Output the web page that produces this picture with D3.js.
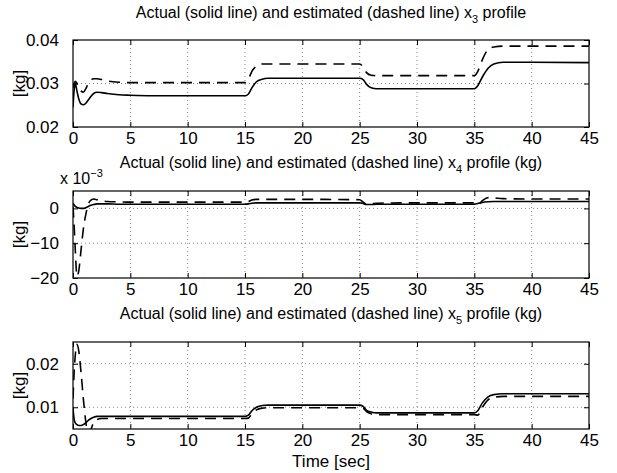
<!DOCTYPE html>
<html>
<head>
<meta charset="utf-8">
<script src="https://cdn.jsdelivr.net/npm/d3@7"></script>
<style>
  body { margin: 0; background: #fff; }
  svg text { font-family: "Liberation Sans", Arial, Helvetica, sans-serif; fill: #000; }
</style>
</head>
<body>
<div id="chart"></div>
<script>
// time samples [sec], shared by every series
var time = [0, 0.1, 0.2, 0.35, 0.5, 0.7, 0.9, 1.1, 1.3, 1.5, 1.8, 2.1, 2.5, 3, 4, 5, 7, 10, 15,
    15.3, 15.6, 16, 16.5, 17, 20, 25, 25.3, 25.6, 26, 26.5, 30, 35,
    35.3, 35.7, 36.2, 36.7, 37.5, 40, 45];

// x3 [kg]
var x3Actual = [0.0245, 0.0285, 0.0300, 0.0282, 0.0265, 0.0253, 0.0251, 0.0254, 0.0261, 0.0268, 0.0277, 0.0280, 0.0279, 0.0277, 0.0274, 0.0273, 0.0272, 0.0272, 0.0272,
    0.0276, 0.0290, 0.0304, 0.0310, 0.0312, 0.0312, 0.0312, 0.0309, 0.0298, 0.0290, 0.0288, 0.0288, 0.0288,
    0.0295, 0.0315, 0.0335, 0.0345, 0.0349, 0.0349, 0.0348];
var x3Estimated = [0.0290, 0.0300, 0.0305, 0.0300, 0.0292, 0.0283, 0.0280, 0.0287, 0.0298, 0.0306, 0.0311, 0.0311, 0.0309, 0.0306, 0.0303, 0.0302, 0.0302, 0.0302, 0.0302,
    0.0310, 0.0328, 0.0340, 0.0345, 0.0345, 0.0345, 0.0345, 0.0338, 0.0325, 0.0319, 0.0318, 0.0318, 0.0318,
    0.0328, 0.0355, 0.0378, 0.0384, 0.0386, 0.0386, 0.0386];

// x4 [x 10^-3 kg]
var x4Actual = [1.5, 1.0, 0.6, 0.3, 0.1, 0.0, 0.0, 0.2, 0.5, 0.8, 1.1, 1.3, 1.3, 1.3, 1.2, 1.2, 1.2, 1.2, 1.2,
    1.3, 1.5, 1.6, 1.6, 1.6, 1.6, 1.6, 1.4, 1.1, 1.1, 1.2, 1.2, 1.2,
    1.4, 1.7, 1.9, 2.0, 2.0, 2.0, 2.0];
var x4Estimated = [0.5, -5, -12, -19.5, -18, -12, -6, -2, 0.8, 2.2, 2.7, 2.5, 2.2, 2.0, 1.9, 1.8, 1.8, 1.8, 1.8,
    2.0, 2.4, 2.6, 2.6, 2.6, 2.6, 2.5, 1.8, 1.2, 1.3, 1.5, 1.6, 1.6,
    1.0, 2.2, 3.1, 3.0, 2.8, 2.7, 2.7];

// x5 [kg]
var x5Actual = [0.0098, 0.0072, 0.0064, 0.0060, 0.0058, 0.0058, 0.0060, 0.0064, 0.0069, 0.0073, 0.0077, 0.0079, 0.0079, 0.0079, 0.0079, 0.0079, 0.0079, 0.0079, 0.0079,
    0.0082, 0.0092, 0.0100, 0.0104, 0.0105, 0.0105, 0.0105, 0.0102, 0.0093, 0.0089, 0.0087, 0.0087, 0.0087,
    0.0092, 0.0110, 0.0124, 0.0129, 0.0131, 0.0131, 0.0131];
var x5Estimated = [0.012, 0.018, 0.022, 0.0245, 0.023, 0.018, 0.012, 0.007, 0.004, 0.0045, 0.0065, 0.0072, 0.0074, 0.0074, 0.0074, 0.0074, 0.0074, 0.0074, 0.0074,
    0.0075, 0.0085, 0.0094, 0.0098, 0.0099, 0.0099, 0.0099, 0.0098, 0.0090, 0.0085, 0.0083, 0.0083, 0.0083,
    0.0082, 0.0100, 0.0117, 0.0123, 0.0125, 0.0125, 0.0125];

var xTicks = [0, 5, 10, 15, 20, 25, 30, 35, 40, 45];
var x3Ticks = [0.02, 0.03, 0.04];
var x4Ticks = [-20, -10, 0];
var x5Ticks = [0.01, 0.02];

var panels = [
    { top: 40, domain: [0.02, 0.04], ticks: x3Ticks, fmt: d3.format(".2f"), actual: x3Actual, est: x3Estimated, sub: "3", tail: " profile", titleY: 18 },
    { top: 191, domain: [-20, 5], ticks: x4Ticks, fmt: function (d) { return d < 0 ? "\u2212" + (-d) : d; }, actual: x4Actual, est: x4Estimated, sub: "4", tail: " profile (kg)", titleY: 168 },
    { top: 342, domain: [0.005, 0.025], ticks: x5Ticks, fmt: d3.format(".2f"), actual: x5Actual, est: x5Estimated, sub: "5", tail: " profile (kg)", titleY: 319 }
];

var width = 617, height = 473,
    left = 73, right = 589, ph = 87,
    fs = "16px", tickFs = "17px";

var svg = d3.select("#chart").append("svg")
    .attr("width", width)
    .attr("height", height);

var x = d3.scaleLinear().domain([0, 45]).range([left, right]);

panels.forEach(function (p, i) {
    var y = d3.scaleLinear().domain(p.domain).range([p.top + ph, p.top]);
    var g = svg.append("g");

    // dotted grid
    g.selectAll(".gx").data(xTicks.slice(1, -1)).enter().append("line")
        .attr("x1", function (d) { return x(d); })
        .attr("x2", function (d) { return x(d); })
        .attr("y1", p.top).attr("y2", p.top + ph)
        .attr("stroke", "#666").attr("stroke-width", 0.8).attr("stroke-dasharray", "1,3");
    g.selectAll(".gy").data(p.ticks.filter(function (d) { return d > p.domain[0] && d < p.domain[1]; })).enter().append("line")
        .attr("x1", left).attr("x2", right)
        .attr("y1", function (d) { return y(d); })
        .attr("y2", function (d) { return y(d); })
        .attr("stroke", "#666").attr("stroke-width", 0.8).attr("stroke-dasharray", "1,3");

    // curves, clipped to the axes box
    var clipId = "clip" + i;
    svg.append("clipPath").attr("id", clipId).append("rect")
        .attr("x", left).attr("y", p.top).attr("width", right - left).attr("height", ph);

    var line = function (vals) {
        return d3.line()
            .x(function (d, j) { return x(time[j]); })
            .y(function (d) { return y(d); })
            .curve(d3.curveMonotoneX)(vals);
    };
    g.append("path").attr("d", line(p.actual))
        .attr("clip-path", "url(#" + clipId + ")")
        .attr("fill", "none").attr("stroke", "#000").attr("stroke-width", 1.6);
    g.append("path").attr("d", line(p.est))
        .attr("clip-path", "url(#" + clipId + ")")
        .attr("fill", "none").attr("stroke", "#000").attr("stroke-width", 1.6)
        .attr("stroke-dasharray", "11,7");

    // axes, MATLAB style: ticks inward on all four sides
    g.append("g")
        .attr("transform", "translate(0," + (p.top + ph) + ")")
        .call(d3.axisBottom(x).tickValues(xTicks).tickSizeInner(-5).tickSizeOuter(0).tickPadding(5))
        .call(function (a) { a.select(".domain").remove(); a.selectAll("text").style("font-size", tickFs); });
    g.append("g")
        .attr("transform", "translate(0," + p.top + ")")
        .call(d3.axisTop(x).tickValues(xTicks).tickSizeInner(-5).tickSizeOuter(0).tickFormat(""))
        .call(function (a) { a.select(".domain").remove(); });
    g.append("g")
        .attr("transform", "translate(" + left + ",0)")
        .call(d3.axisLeft(y).tickValues(p.ticks).tickFormat(p.fmt).tickSizeInner(-5).tickSizeOuter(0).tickPadding(14))
        .call(function (a) { a.select(".domain").remove(); a.selectAll("text").style("font-size", tickFs); });
    g.append("g")
        .attr("transform", "translate(" + right + ",0)")
        .call(d3.axisRight(y).tickValues(p.ticks).tickSizeInner(-5).tickSizeOuter(0).tickFormat(""))
        .call(function (a) { a.select(".domain").remove(); });

    g.append("rect")
        .attr("x", left).attr("y", p.top).attr("width", right - left).attr("height", ph)
        .attr("fill", "none").attr("stroke", "#000").attr("stroke-width", 1.2);

    // title with subscript
    var t = svg.append("text")
        .attr("x", (left + right) / 2).attr("y", p.titleY)
        .attr("text-anchor", "middle")
        .style("font-size", fs);
    t.append("tspan").text("Actual (solid line) and estimated (dashed line) x");
    t.append("tspan").attr("dy", 5).style("font-size", "11px").text(p.sub);
    t.append("tspan").attr("dy", -5).text(p.tail);

    // y label
    svg.append("text")
        .attr("transform", "translate(25," + (p.top + ph / 2) + ") rotate(-90)")
        .attr("text-anchor", "middle")
        .style("font-size", tickFs)
        .text("[kg]");
});

// exponent label of the middle panel
var ex = svg.append("text").attr("x", 60).attr("y", 184).style("font-size", fs);
ex.append("tspan").text("x 10");
ex.append("tspan").attr("dy", -7).style("font-size", "11px").text("\u22123");

svg.append("text")
    .attr("x", (left + right) / 2).attr("y", 467)
    .attr("text-anchor", "middle")
    .style("font-size", tickFs)
    .text("Time [sec]");
</script>
</body>
</html>
